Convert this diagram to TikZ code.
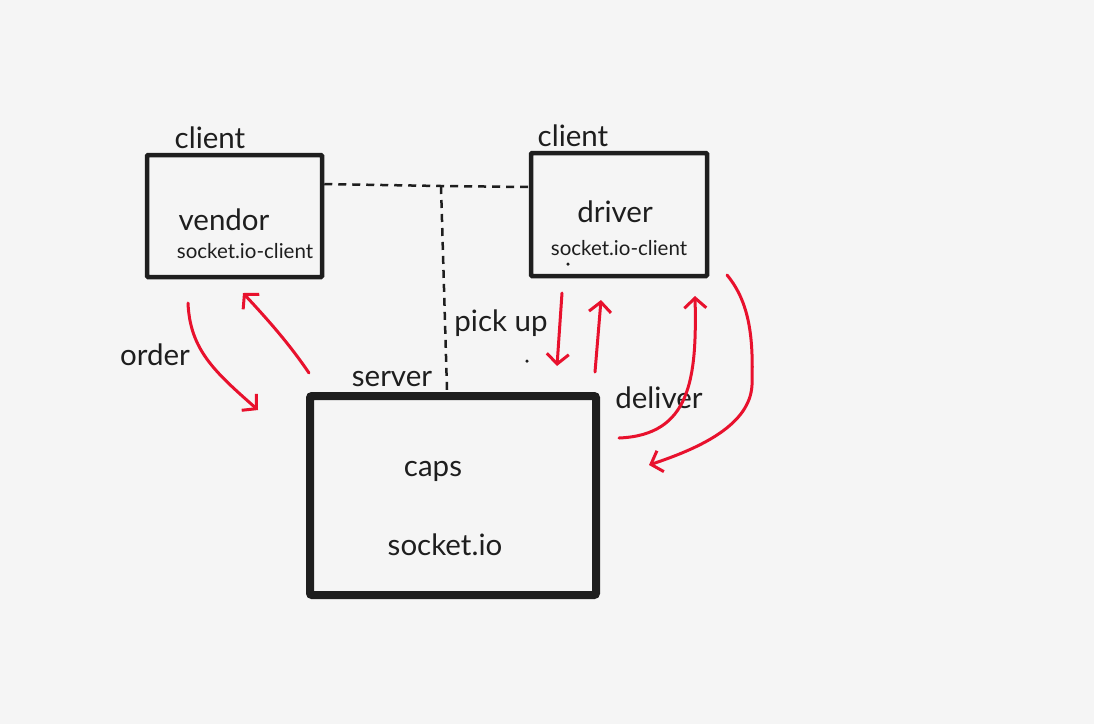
\documentclass[tikz,border=0pt]{standalone}
\usepackage{fontspec}
\setmainfont{Lato}
\usetikzlibrary{arrows.meta}
\definecolor{bg}{HTML}{F5F5F5}
\definecolor{ink}{HTML}{1E1E1E}
\definecolor{arrowred}{HTML}{E8112D}
\tikzset{
  box/.style={draw=ink, line width=4.5pt, rounded corners=1pt, inner sep=0pt},
  bigbox/.style={draw=ink, line width=8pt, rounded corners=2pt, inner sep=0pt},
  lbl/.style={text=ink, inner sep=0pt, font=\fontsize{29.5}{31}\selectfont},
  small/.style={text=ink, inner sep=0pt, font=\fontsize{20.5}{22}\selectfont},
  conn/.style={draw=ink, line width=2.5pt, dash pattern=on 8pt off 6pt},
  flow/.style={draw=arrowred, line width=3pt, line cap=round, -{Straight Barb[length=10pt,width=22pt,line width=3pt]}},
  dot/.style={circle, fill=ink, inner sep=0pt, minimum size=3.5pt}
}
\begin{document}
\begin{tikzpicture}[x=1pt,y=-1pt]
\fill[bg] (0,0) rectangle (1094,724);
\useasboundingbox (0,0) rectangle (1094,724);

% boxes
\node[box, minimum width=175pt, minimum height=122pt] (vendor) at (234.5,216) {};
\node[box, minimum width=176pt, minimum height=123pt] (driver) at (619,214.5) {};
\node[bigbox, minimum width=286pt, minimum height=199pt] (server) at (453,495.5) {};

% titles
\node[lbl] (vclient) at (210,138) {client};
\node[lbl] (dclient) at (573,136) {client};
\node[lbl] (srvlbl) at (392,379) {server};

% box contents
\node[lbl] (vname) at (224,220) {vendor};
\node[small] (vsock) at (245,251) {socket.io-client};
\node[lbl] (dname) at (615,212) {driver};
\node[small] (dsock) at (619,248) {socket.io-client};
\node[lbl] (caps) at (433,471) {caps};
\node[lbl] (sio) at (445,545) {socket.io};

% flow labels
\node[lbl] (order) at (155,355) {order};
\node[lbl] (pickup) at (501,323) {pick up};
\node[lbl] (deliver) at (659,398) {deliver};

% stray dots
\node[dot] (d2) at (568,264) {};
\node[dot] (d3) at (527,361) {};

% dashed connectors
\coordinate (jn) at (441,186);
\draw[conn] (vendor.east |- 0,184) -- (jn) -- (driver.west |- 0,187);
\draw[conn] (jn) -- (447,390);

% red arrows
\coordinate (a1s) at (188,303);
\coordinate (a1e) at (258,410);
\draw[flow] (a1s) .. controls (190,350) and (215,372) .. (a1e);
\coordinate (a2s) at (309,373);
\coordinate (a2e) at (243,293);
\draw[flow] (a2s) .. controls (290,345) and (270,322) .. (a2e);
\coordinate (a3s) at (562,293);
\coordinate (a3e) at (557,366);
\draw[flow] (a3s) -- (a3e);
\coordinate (a4s) at (595,372);
\coordinate (a4e) at (601,300);
\draw[flow] (a4s) -- (a4e);
\coordinate (a5s) at (619,438);
\coordinate (a5e) at (695,296);
\draw[flow] (a5s) .. controls (690,435) and (697,380) .. (a5e);
\coordinate (a6s) at (727,275);
\coordinate (a6m) at (752,385);
\coordinate (a6e) at (649,465);
\draw[flow] (a6s) .. controls (752,305) and (753,345) .. (a6m) .. controls (750,425) and (700,448) .. (a6e);
\end{tikzpicture}
\end{document}
